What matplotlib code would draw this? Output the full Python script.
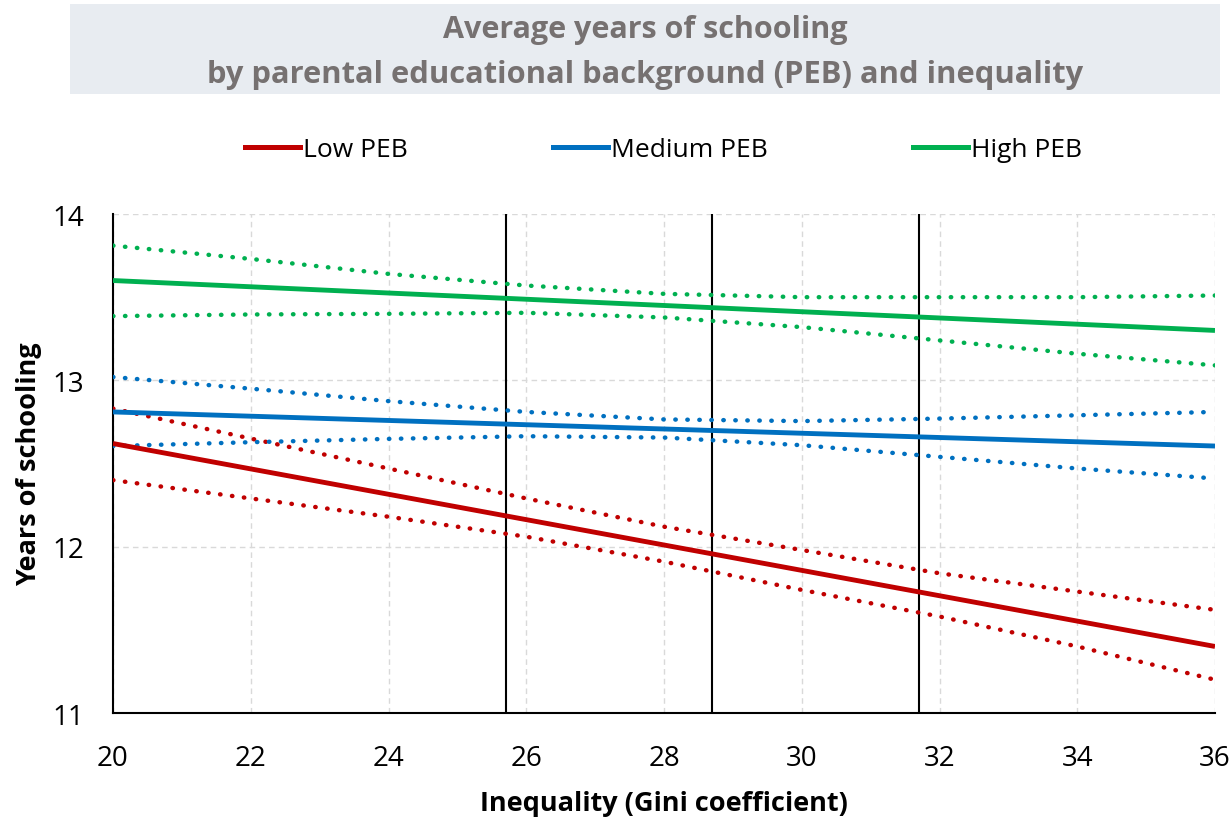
import matplotlib.pyplot as plt
from matplotlib.lines import Line2D
from matplotlib.patches import Rectangle

# fitted lines (straight) at x = 20 and 36
x_ends = [20, 36]
low_fit = [12.62, 11.40]
med_fit = [12.81, 12.605]
high_fit = [13.60, 13.30]

# confidence bands read at Gini = 20, 22, ..., 36
x_band = [20, 22, 24, 26, 28, 30, 32, 34, 36]
low_up = [12.83, 12.65, 12.47, 12.29, 12.12, 11.98, 11.84, 11.73, 11.62]
low_lo = [12.40, 12.29, 12.18, 12.06, 11.91, 11.74, 11.58, 11.40, 11.20]
med_up = [13.02, 12.95, 12.875, 12.81, 12.765, 12.755, 12.77, 12.79, 12.81]
med_lo = [12.605, 12.628, 12.648, 12.664, 12.656, 12.61, 12.54, 12.47, 12.41]
high_up = [13.81, 13.73, 13.64, 13.57, 13.52, 13.50, 13.50, 13.50, 13.51]
high_lo = [13.386, 13.396, 13.40, 13.406, 13.378, 13.32, 13.24, 13.16, 13.09]

markers_x = [25.7, 28.7, 31.7]

labels = ['Low PEB', 'Medium PEB', 'High PEB']
colors = ['#C00000', '#0070C0', '#00B050']

plt.rcParams['font.family'] = ['Open Sans', 'DejaVu Sans']

fig = plt.figure(figsize=(12.32, 8.2), dpi=100)
ax = fig.add_axes([113/1232, 1-714/820, (1215-113)/1232, (714-215)/820])

dot = (0, (0.1, 2.6))
series = [(low_fit, low_up, low_lo), (med_fit, med_up, med_lo), (high_fit, high_up, high_lo)]
for (fit, up, lo), c in zip(series, colors):
    ax.plot(x_band, up, color=c, lw=3.2, linestyle=dot, dash_capstyle='round', zorder=3)
    ax.plot(x_band, lo, color=c, lw=3.2, linestyle=dot, dash_capstyle='round', zorder=3)
    ax.plot(x_ends, fit, color=c, lw=3.5, solid_capstyle='butt', zorder=4)

for xv in markers_x:
    ax.axvline(xv, color='black', lw=1.5, zorder=2)

ax.set_xlim(20, 36)
ax.set_ylim(11, 14)
ax.set_xticks(range(20, 37, 2))
ax.set_yticks([11, 12, 13, 14])
ax.grid(True, color='#D9D9D9', linestyle=(0, (4, 3)), lw=1.0, zorder=0)
for s in ['top', 'right']:
    ax.spines[s].set_visible(False)
for s in ['left', 'bottom']:
    ax.spines[s].set_color('black')
    ax.spines[s].set_linewidth(1.5)
ax.tick_params(axis='x', length=0, labelsize=20, pad=22)
ax.tick_params(axis='y', length=0, labelsize=20, pad=21)
ax.set_xlabel('Inequality (Gini coefficient)', fontsize=19.5, fontweight='bold', labelpad=13)
ax.set_ylabel('Years of schooling', fontsize=19.5, fontweight='bold', labelpad=7.5)

# title box
fig.patches.append(Rectangle((70/1232, 1-95/820), 1150/1232, 90/820,
                             transform=fig.transFigure, facecolor='#E8ECF1',
                             edgecolor='none', zorder=0))
fig.text(0.5235, 1-30/820, 'Average years of schooling', ha='center', va='center',
         fontsize=22, fontweight='bold', color='#767171')
fig.text(0.5235, 1-75/820, 'by parental educational background (PEB) and inequality',
         ha='center', va='center', fontsize=22.2, fontweight='bold', color='#767171')

handles = [Line2D([], [], color=c, lw=3.6) for c in colors]
fig.legend(handles, labels, loc='center', bbox_to_anchor=(0.5386, 1-151/820), ncol=3,
           frameon=False, fontsize=19, handlelength=2.1, handletextpad=0.1,
           columnspacing=5.5)

fig.savefig('out.png', dpi=100)
